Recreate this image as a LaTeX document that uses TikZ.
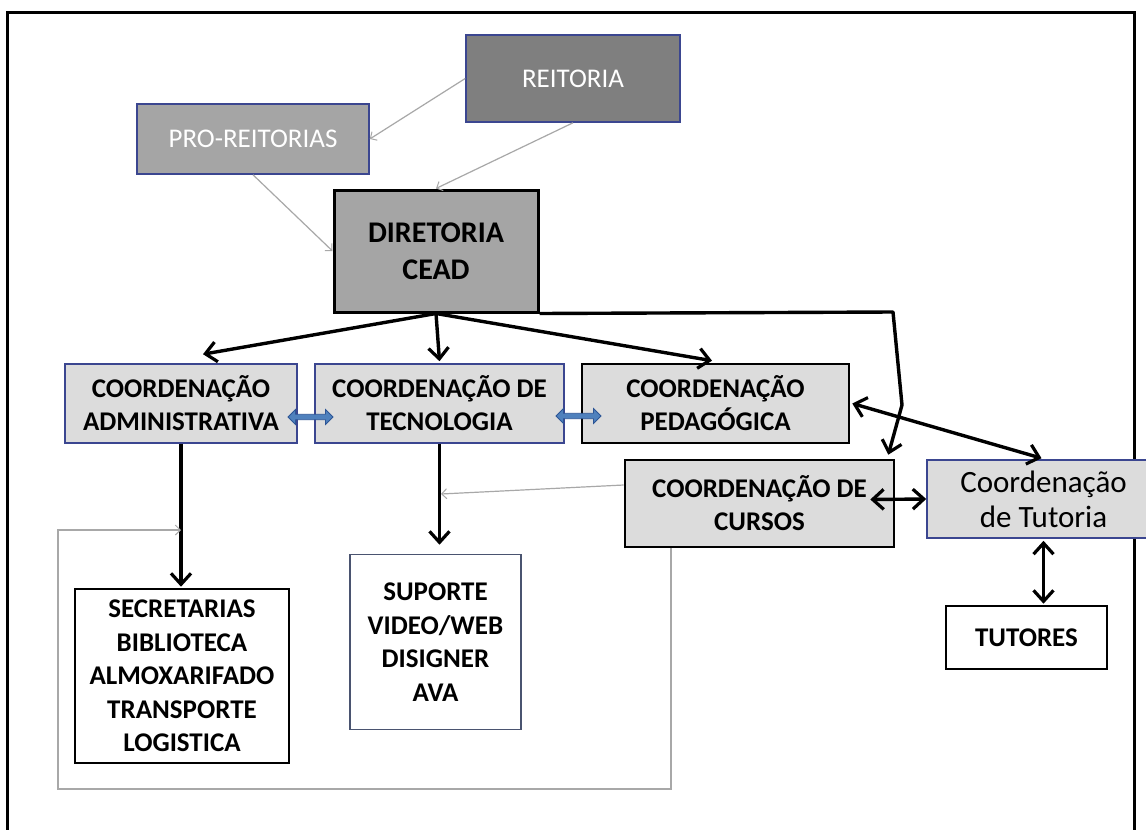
\documentclass[tikz,border=0pt]{standalone}
\usepackage{fontspec}
\setmainfont{Carlito}
\usetikzlibrary{arrows.meta,shapes.arrows,calc}

\definecolor{navy}{HTML}{3B4690}
\definecolor{darkfill}{HTML}{7F7F7F}
\definecolor{midfill}{HTML}{A5A5A5}
\definecolor{lightfill}{HTML}{DCDCDC}
\definecolor{thinline}{HTML}{A8A8A8}
\definecolor{linkfill}{HTML}{4F81BD}
\definecolor{linkdraw}{HTML}{2C5596}
\definecolor{supdraw}{HTML}{4A5470}

\tikzset{
  box/.style={rectangle, inner sep=0pt, align=center, anchor=center},
  topbox/.style={box, fill=darkfill, draw=navy, line width=1.6pt,
    text=white, font=\fontsize{27}{33}\selectfont},
  probox/.style={box, fill=midfill, draw=navy, line width=1.6pt,
    text=white, font=\fontsize{27}{33}\selectfont},
  dirbox/.style={box, fill=midfill, draw=black, line width=3pt,
    font=\bfseries\fontsize{30}{37}\selectfont},
  bluebox/.style={box, fill=lightfill, draw=navy, line width=1.6pt,
    font=\bfseries\fontsize{27}{33}\selectfont},
  blackbox/.style={box, fill=lightfill, draw=black, line width=2.6pt,
    font=\bfseries\fontsize{27}{33}\selectfont},
  whitebox/.style={box, fill=white, draw=black, line width=2.6pt,
    font=\bfseries\fontsize{27}{33.5}\selectfont},
  supbox/.style={box, fill=white, draw=supdraw, line width=1.6pt,
    font=\bfseries\fontsize{27}{33.5}\selectfont},
  tutbox/.style={box, fill=lightfill, draw=navy, line width=1.6pt,
    font=\fontsize{31}{35}\selectfont},
  link/.style={double arrow, fill=linkfill, draw=linkdraw, line width=0.8pt,
    minimum height=45pt, minimum width=15pt, inner sep=1pt,
    double arrow head extend=2.5pt},
  barb/.tip={Straight Barb[length=11pt,width=20pt,line width=3.2pt]},
  thick arrow/.style={draw=black, line width=3.4pt, -barb},
  thick both/.style={draw=black, line width=3.4pt, barb-barb},
  thin arrow/.style={draw=thinline, line width=1.2pt,
    -{Straight Barb[length=5pt,width=10pt,line width=1pt]}},
}

\begin{document}
\begin{tikzpicture}[x=1pt,y=-1pt]
\clip (0,0) rectangle (1146,830);
\fill[white] (0,0) rectangle (1146,830);

% outer frame, open at the bottom
\draw[line width=3pt] (7,840) -- (7,12) -- (1134,12) -- (1134,840);

% boxes
\node[topbox, minimum width=214pt, minimum height=87pt] (reit) at (573,78.5) {REITORIA};
\node[probox, minimum width=232pt, minimum height=70pt] (pro) at (253,139) {PRO-REITORIAS};
\node[dirbox, minimum width=204pt, minimum height=122pt] (dir) at (436,251) {DIRETORIA\\CEAD};

\node[bluebox, minimum width=232pt, minimum height=79pt] (adm) at (181,403.5) {COORDENAÇÃO\\ADMINISTRATIVA};
\node[bluebox, minimum width=249pt, minimum height=79pt] (tec) at (439.5,403.5) {COORDENAÇÃO DE\\TECNOLOGIA};
\node[blackbox, minimum width=267pt, minimum height=79pt] (ped) at (715.5,403.5) {COORDENAÇÃO\\PEDAGÓGICA};
\node[blackbox, minimum width=269pt, minimum height=87pt] (cur) at (759.5,503.5) {COORDENAÇÃO DE\\CURSOS};
\node[tutbox, minimum width=233pt, minimum height=78pt] (tut) at (1043.5,499) {Coordenação\\de Tutoria};

\node[whitebox, minimum width=161pt, minimum height=63pt] (tutores) at (1026.5,637.5) {TUTORES};
\node[whitebox, minimum width=214pt, minimum height=174pt] (sec) at (182,676)
  {SECRETARIAS\\BIBLIOTECA\\ALMOXARIFADO\\TRANSPORTE\\LOGISTICA};
\node[supbox, minimum width=171pt, minimum height=175pt] (sup) at (435.5,642)
  {SUPORTE\\VIDEO/WEB\\DISIGNER\\AVA};

% small two-way links between neighbouring coordinations
\node[link] (lk1) at (310.5,417) {};
\node[link] (lk2) at (578.5,416) {};

% thin grey links at the top
\draw[thin arrow] (reit.west) -- (pro.east);
\draw[thin arrow] (reit.south) -- (dir.north);
\draw[thin arrow] (pro.south) -- (dir.west);

% directorate to the coordinations
\draw[thick arrow] (dir.south) -- ([shift={(22,-9)}]adm.north);
\draw[thick arrow] (dir.south) -- ([yshift=2pt]tec.north);
\draw[thick arrow] (dir.south) -- ([shift={(-3.5,-2)}]ped.north);

\coordinate (bendA) at (893,312);
\coordinate (bendB) at (902,405);
\draw[thick arrow, line join=round] (dir.south east) -- (bendA) -- (bendB) -- ([shift={(-7,-4)}]cur.north east);

% two-way links around the tutoring coordination
\draw[thick both] ([xshift=2pt]ped.east) -- ([shift={(-2,-1)}]tut.north);
\draw[thick both] ([shift={(-25,-4)}]cur.east) -- (tut.west);
\draw[thick both] ([yshift=-2pt]tut.south) -- ($(tut.south |- tutores.north)+(0,-1)$);

% downward links to the support units
\draw[thick arrow] (adm.south) -- ($(adm.south |- sec.north)+(0,-1)$);
\draw[thick arrow] (tec.south) -- ($(tec.south |- sup.north)+(0,-9)$);

% thin grey links from the course coordination
\coordinate (tecjoin) at (441,494);
\draw[thin arrow] ([yshift=18.5pt]cur.west) -- (tecjoin);
\coordinate (cornerbl) at (58,789);
\coordinate (admjoin) at (181,530);
\draw[thin arrow] ([xshift=-88.5pt]cur.south) |- (cornerbl) |- (admjoin);
\end{tikzpicture}
\end{document}
